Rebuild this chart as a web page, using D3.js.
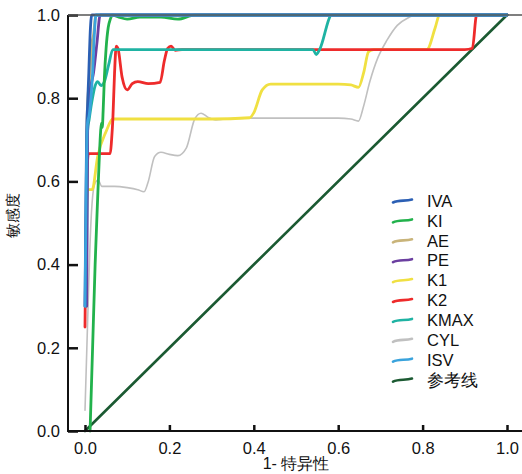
<!DOCTYPE html>
<html>
<head>
<meta charset="utf-8">
<script src="https://cdn.jsdelivr.net/npm/d3@7"></script>
<style>
  body { margin: 0; background: #fff; }
  text { font-family: "Liberation Sans", Arial, sans-serif; fill: #111; }
</style>
</head>
<body>
<script>
const width = 522
const height = 474

// ROC points [1 - specificity, sensitivity]
const IVA = [[0,0.3],[0.002,0.55],[0.004,0.72],[0.006,0.78],[0.009,0.86],[0.012,0.95],[0.016,1],[1,1]]
const KI = [[0.012,0],[0.018,0.2],[0.024,0.4],[0.03,0.56],[0.034,0.66],[0.037,0.72],[0.039,0.74],[0.041,0.73],[0.043,0.77],[0.046,0.85],[0.05,0.92],[0.055,0.97],[0.06,0.99],[0.065,1],[0.08,0.995],[0.1,0.99],[0.13,0.995],[0.18,0.995],[0.22,0.99],[0.26,1],[1,1]]
const AE = [[0.002,0.3],[0.004,0.7],[0.006,0.78],[0.012,0.86],[0.016,0.93],[0.02,0.95],[0.026,1],[1,1]]
const PE = [[0.004,0.3],[0.006,0.7],[0.008,0.78],[0.014,0.83],[0.02,0.86],[0.028,0.93],[0.036,1],[1,1]]
const K1 = [[0.002,0.3],[0.005,0.58],[0.017,0.58],[0.03,0.66],[0.05,0.72],[0.066,0.75],[0.2,0.75],[0.3,0.75],[0.39,0.753],[0.4,0.765],[0.42,0.82],[0.44,0.834],[0.5,0.834],[0.6,0.834],[0.63,0.832],[0.648,0.826],[0.66,0.86],[0.672,0.912],[0.684,0.917],[0.75,0.917],[0.81,0.917],[0.83,0.97],[0.84,1],[1,1]]
const K2 = [[0,0.25],[0.002,0.45],[0.005,0.62],[0.008,0.667],[0.06,0.667],[0.063,0.7],[0.066,0.75],[0.07,0.86],[0.074,0.925],[0.078,0.92],[0.088,0.85],[0.1,0.82],[0.112,0.835],[0.125,0.84],[0.15,0.835],[0.178,0.838],[0.188,0.89],[0.196,0.92],[0.204,0.925],[0.214,0.915],[0.23,0.917],[0.9,0.917],[0.918,0.92],[0.928,1],[1,1]]
const KMAX = [[0.003,0.3],[0.006,0.72],[0.01,0.75],[0.016,0.79],[0.024,0.83],[0.03,0.84],[0.038,0.83],[0.046,0.84],[0.056,0.88],[0.066,0.917],[0.54,0.917],[0.548,0.905],[0.556,0.917],[0.585,1],[1,1]]
const CYL = [[0,0.05],[0.007,0.29],[0.014,0.5],[0.02,0.58],[0.026,0.6],[0.031,0.603],[0.04,0.588],[0.07,0.588],[0.1,0.585],[0.125,0.58],[0.14,0.575],[0.15,0.6],[0.165,0.66],[0.18,0.67],[0.2,0.665],[0.22,0.662],[0.24,0.68],[0.26,0.75],[0.275,0.764],[0.29,0.755],[0.31,0.748],[0.33,0.75],[0.38,0.752],[0.5,0.752],[0.6,0.752],[0.63,0.75],[0.648,0.745],[0.66,0.78],[0.675,0.84],[0.695,0.9],[0.716,0.94],[0.74,0.975],[0.765,0.993],[0.787,1],[1,1]]
const ISV = [[0,0.3],[0.003,0.6],[0.006,0.74],[0.01,0.76],[0.014,0.8],[0.018,0.86],[0.022,0.95],[0.026,1],[1,1]]
const REF = [[0,0],[1,1]]

const legendNames = ["IVA","KI","AE","PE","K1","K2","KMAX","CYL","ISV","参考线"]
const legendData = [IVA,KI,AE,PE,K1,K2,KMAX,CYL,ISV,REF]
const colors = ["#2b5fb4","#22b24c","#c9b47a","#6b3fa0","#f0e042","#ee2b2b","#1fb3a3","#c0c0c0","#3aa3dc","#1b5a32"]
const ticks = [0,0.2,0.4,0.6,0.8,1.0]

// which order to paint (index into legend arrays)
const drawOrder = [9,7,4,5,6,1,2,3,0,8]

const x = d3.scaleLinear().domain([0,1]).range([85,507])
const y = d3.scaleLinear().domain([0,1]).range([431,15])

const svg = d3.select('body').append('svg')
  .attr('width', width)
  .attr('height', height)

const line = d3.line()
  .x(d => x(d[0]))
  .y(d => y(d[1]))
  .curve(d3.curveMonotoneX)

const g = svg.append('g')
drawOrder.forEach(i => {
  g.append('path')
    .datum(legendData[i])
    .attr('d', line)
    .attr('fill','none')
    .attr('stroke', colors[i])
    .attr('stroke-width', i === 7 ? 1.6 : (i === 9 ? 2.6 : 2.8))
    .attr('stroke-linejoin','round')
    .attr('stroke-linecap','round')
})

// axes
const yAxis = d3.axisRight(y).tickValues(ticks).tickFormat(d3.format('.1f')).tickSize(10)
const xAxis = d3.axisTop(x).tickValues(ticks).tickFormat(d3.format('.1f')).tickSize(6)

const ya = svg.append('g').attr('transform','translate(68,0)').call(yAxis)
ya.select('.domain').remove()
ya.selectAll('.tick line').attr('stroke','#111').attr('stroke-width',2.5)
ya.selectAll('.tick text').attr('text-anchor','end').attr('x',-8).style('font-size','16.5px')

const xa = svg.append('g').attr('transform','translate(0,431)').call(xAxis)
xa.select('.domain').remove()
xa.selectAll('.tick line').attr('stroke','#111').attr('stroke-width',2.5)
xa.selectAll('.tick text').attr('y',11).attr('dy','0.71em').style('font-size','16.5px')

svg.append('line').attr('x1',68).attr('x2',68).attr('y1',15).attr('y2',432)
  .attr('stroke','#111').attr('stroke-width',2)
svg.append('line').attr('x1',67).attr('x2',522).attr('y1',431).attr('y2',431)
  .attr('stroke','#111').attr('stroke-width',2)
svg.append('line').attr('x1',68).attr('x2',522).attr('y1',15).attr('y2',15)
  .attr('stroke','#555').attr('stroke-width',1.5)

svg.append('text').attr('x',296).attr('y',469).attr('text-anchor','middle')
  .style('font-size','16px').text('1- 特异性')
svg.append('text').attr('transform','translate(18,215) rotate(-90)').attr('text-anchor','middle')
  .style('font-size','15px').text('敏感度')

// legend
const lg = svg.append('g')
legendNames.forEach((n,i) => {
  const yy = 201 + i*19.9
  lg.append('path')
    .attr('d', `M393,${yy+1.5} C399,${yy-1.5} 405,${yy+0.5} 412,${yy-1.5}`)
    .attr('fill','none').attr('stroke',colors[i]).attr('stroke-width',2.6).attr('stroke-linecap','round')
  lg.append('text').attr('x',427).attr('y',yy).attr('dy','0.35em')
    .style('font-size','16.5px').text(n)
})
</script>
</body>
</html>
